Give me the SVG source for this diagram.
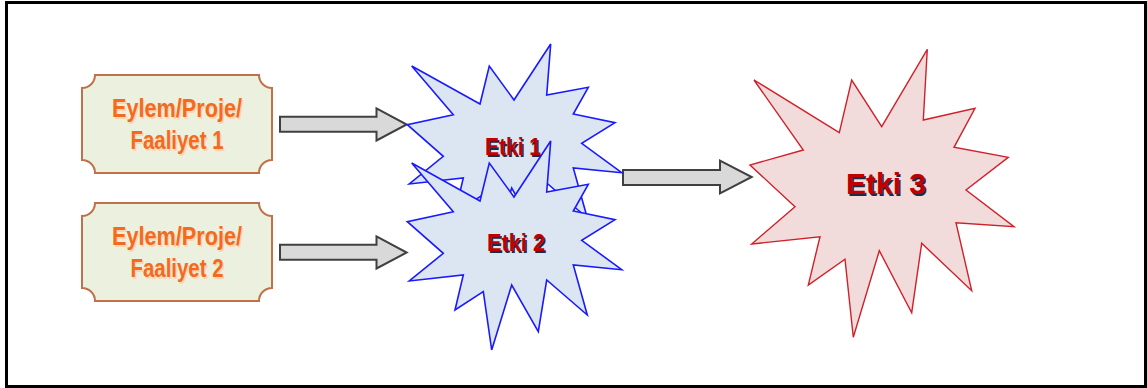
<svg xmlns="http://www.w3.org/2000/svg" width="1147" height="388" viewBox="0 0 1147 388">
<style>
.box{fill:#ebf1de;stroke:#c0714a;stroke-width:2}
.btxt{font-family:"Liberation Sans",Arial,sans-serif;font-weight:bold;font-size:25px;text-anchor:middle}
.bsh{fill:#fcd5b5}
.bfg{fill:#f46a1e}
.arrow{fill:#d9d9d9;stroke:#404040;stroke-width:2;stroke-linejoin:miter}
.blue{fill:#dce6f2;stroke:#1a1aff;stroke-width:1.6;stroke-linejoin:miter}
.red{fill:#f2dcdb;stroke:#d0202a;stroke-width:1.4;stroke-linejoin:miter}
.etxt{font-family:"Liberation Sans",Arial,sans-serif;font-weight:bold;text-anchor:middle}
.esh{fill:#1f2a44}
.efg{fill:#c00000}
</style>
<defs>
<path id="plaque" d="M13,0 H177 A13,13 0 0 0 190,13 V85 A13,13 0 0 0 177,98 H13 A13,13 0 0 0 0,85 V13 A13,13 0 0 0 13,0 Z"/>
<path id="star" d="M411.7,66 L480,104 L489.3,66 L514,100 L550.7,44 L546.7,95 L588.3,87.3 L573.3,114 L615,122.7 L581.7,143.3 L621.7,172.7 L573.3,168 L587.3,218 L546.7,183 L538.3,234.7 L511.7,188 L491.7,253 L483.3,194.7 L455,213 L463.3,178 L409.3,184 L443.3,156.3 L407.3,124.7 L453.3,114.7 Z"/>
</defs>
<rect x="6.5" y="2.5" width="1139" height="384" fill="#ffffff" stroke="#000000" stroke-width="3"/>
<g id="box1">
<use href="#plaque" x="82" y="75" class="box"/>
<text class="btxt bsh" x="178.5" y="118.5" textLength="130" lengthAdjust="spacingAndGlyphs">Eylem/Proje/</text>
<text class="btxt bfg" x="177" y="117" textLength="130" lengthAdjust="spacingAndGlyphs">Eylem/Proje/</text>
<text class="btxt bsh" x="178.5" y="150.5" textLength="93" lengthAdjust="spacingAndGlyphs">Faaliyet 1</text>
<text class="btxt bfg" x="177" y="149" textLength="93" lengthAdjust="spacingAndGlyphs">Faaliyet 1</text>
</g>
<g id="box2">
<use href="#plaque" x="82" y="203" class="box"/>
<text class="btxt bsh" x="178.5" y="246.5" textLength="130" lengthAdjust="spacingAndGlyphs">Eylem/Proje/</text>
<text class="btxt bfg" x="177" y="245" textLength="130" lengthAdjust="spacingAndGlyphs">Eylem/Proje/</text>
<text class="btxt bsh" x="178.5" y="278.5" textLength="93" lengthAdjust="spacingAndGlyphs">Faaliyet 2</text>
<text class="btxt bfg" x="177" y="277" textLength="93" lengthAdjust="spacingAndGlyphs">Faaliyet 2</text>
</g>
<g id="connectors">
<path class="arrow" d="M280,116.7 H376.5 V108.3 L406.7,124.5 L376.5,140.5 V131.7 H280 Z"/>
<path class="arrow" d="M280,244.7 H376.5 V236.3 L406.7,252.5 L376.5,268.5 V259.7 H280 Z"/>
<path class="arrow" d="M623,170 H720 V160.7 L751.7,177 L720,193.3 V185 H623 Z"/>
</g>
<g id="etki1">
<use href="#star" class="blue"/>
<text class="etxt esh" x="514.5" y="156.5" font-size="24" textLength="56" lengthAdjust="spacingAndGlyphs">Etki 1</text>
<text class="etxt efg" x="513" y="155" font-size="24" textLength="56" lengthAdjust="spacingAndGlyphs">Etki 1</text>
</g>
<g id="etki2">
<use href="#star" y="97" class="blue"/>
<text class="etxt esh" x="517.5" y="252.5" font-size="24" textLength="58" lengthAdjust="spacingAndGlyphs">Etki 2</text>
<text class="etxt efg" x="516" y="251" font-size="24" textLength="58" lengthAdjust="spacingAndGlyphs">Etki 2</text>
</g>
<g id="etki3">
<path class="red" d="M754,80 L839.3,132.7 L851.7,80 L881.7,126.7 L927.3,49.3 L923.3,120 L975,108.3 L954,147.3 L1008.3,157.3 L966,190 L1014,226.7 L956,222.7 L971.7,290.7 L921.7,243.3 L911.7,312.7 L879.3,250.7 L853.3,337.3 L845,259.3 L808.3,285 L820,236.7 L751.7,244 L795,206.7 L750,165 L803.3,150 Z"/>
<text class="etxt esh" x="887.5" y="195.5" font-size="30" textLength="80" lengthAdjust="spacingAndGlyphs">Etki 3</text>
<text class="etxt efg" x="886" y="194" font-size="30" textLength="80" lengthAdjust="spacingAndGlyphs">Etki 3</text>
</g>
</svg>
